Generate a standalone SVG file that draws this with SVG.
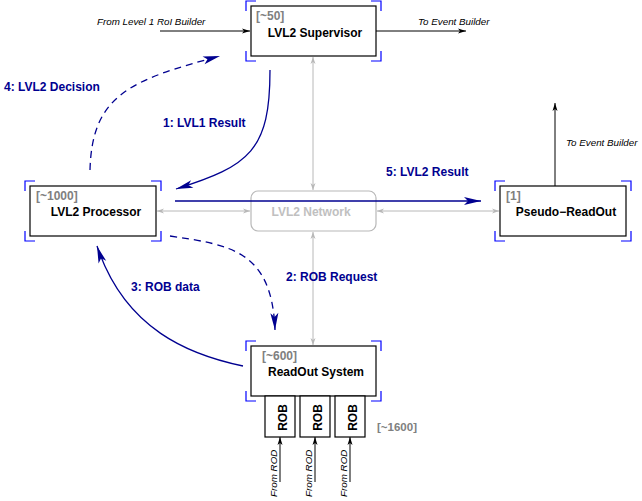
<svg xmlns="http://www.w3.org/2000/svg" width="642" height="501" viewBox="0 0 642 501">
<defs>
<marker id="ab" markerUnits="userSpaceOnUse" markerWidth="20" markerHeight="12" viewBox="-18 -6 20 12" refX="0" refY="0" orient="auto"><path d="M0,0 L-17,-4 L-13,0 L-17,4 Z" fill="#000090"/></marker>
<marker id="ak" markerUnits="userSpaceOnUse" markerWidth="12" markerHeight="8" viewBox="-10 -4 12 8" refX="0" refY="0" orient="auto"><path d="M0,0 L-8,-2.5 L-6,0 L-8,2.5 Z" fill="#000"/></marker>
<marker id="ag" markerUnits="userSpaceOnUse" markerWidth="12" markerHeight="8" viewBox="-10 -4 12 8" refX="0" refY="0" orient="auto"><path d="M0,0 L-7,-2.5 L-5,0 L-7,2.5 Z" fill="#b8b8b8"/></marker>
<marker id="ags" markerUnits="userSpaceOnUse" markerWidth="12" markerHeight="8" viewBox="-2 -4 12 8" refX="0" refY="0" orient="auto"><path d="M0,0 L7,-2.5 L5,0 L7,2.5 Z" fill="#b8b8b8"/></marker>
</defs>
<style>
.box{fill:#fff;stroke:#000;stroke-width:1.2}
.br{fill:none;stroke:#0000ff;stroke-width:1.2}
.t{font-family:"Liberation Sans",Arial,sans-serif;font-weight:bold;font-size:12px;fill:#000}
.n{font-family:"Liberation Sans",Arial,sans-serif;font-weight:bold;font-size:12px;fill:#808080}
.it{font-family:"Liberation Sans",Arial,sans-serif;font-style:italic;font-size:9.8px;fill:#000}
.bl{font-family:"Liberation Sans",Arial,sans-serif;font-weight:bold;font-size:12px;fill:#000090}
.gl{fill:none;stroke:#b8b8b8;stroke-width:1}
.kl{fill:none;stroke:#000;stroke-width:1}
.cb{fill:none;stroke:#000090;stroke-width:1.3}
.cd{fill:none;stroke:#000090;stroke-width:1.3;stroke-dasharray:7,5}
</style>

<g id="connectors">
<line class="gl" x1="157" y1="211" x2="250" y2="211" marker-start="url(#ags)" marker-end="url(#ag)"/>
<line class="gl" x1="377" y1="211" x2="499" y2="211" marker-start="url(#ags)" marker-end="url(#ag)"/>
<line class="gl" x1="313" y1="57" x2="313" y2="190" marker-start="url(#ags)" marker-end="url(#ag)"/>
<line class="gl" x1="313" y1="232" x2="313" y2="345" marker-start="url(#ags)" marker-end="url(#ag)"/>
<line class="kl" x1="160" y1="31" x2="250" y2="31" marker-end="url(#ak)"/>
<line class="kl" x1="376" y1="31" x2="466" y2="31" marker-end="url(#ak)"/>
<line class="kl" x1="555" y1="186" x2="555" y2="103" marker-end="url(#ak)"/>
<line class="kl" x1="280" y1="482" x2="280" y2="437" marker-end="url(#ak)"/>
<line class="kl" x1="315" y1="482" x2="315" y2="437" marker-end="url(#ak)"/>
<line class="kl" x1="350" y1="482" x2="350" y2="437" marker-end="url(#ak)"/>
<path class="cb" d="M270,70 C270,150 250,166 176,189" marker-end="url(#ab)"/>
<path class="cd" d="M90,170 C92,95 130,80 220,56" marker-end="url(#ab)"/>
<path class="cd" d="M170,236 C230,245 272,250 275,330" marker-end="url(#ab)"/>
<path class="cb" d="M243,366 C190,355 125,330 97,246" marker-end="url(#ab)"/>
</g>

<g id="labels">
<text class="it" x="97" y="25">From Level 1 RoI Builder</text>
<text class="it" x="418" y="25">To Event Builder</text>
<text class="it" x="566" y="146">To Event Builder</text>
<text class="bl" x="4" y="91">4: LVL2 Decision</text>
<text class="bl" x="163" y="127">1: LVL1 Result</text>
<text class="bl" x="386" y="176">5: LVL2 Result</text>
<text class="bl" x="286" y="281">2: ROB Request</text>
<text class="bl" x="131" y="291">3: ROB data</text>
<text class="it" transform="translate(277,497) rotate(-90)">From ROD</text>
<text class="it" transform="translate(312,497) rotate(-90)">From ROD</text>
<text class="it" transform="translate(347,497) rotate(-90)">From ROD</text>
<text class="n" x="377" y="431" style="font-size:11.5px">[~1600]</text>
</g>

<g id="supervisor">
<rect class="box" x="251" y="6" width="125" height="50"/>
<path class="br" d="M246,11 V1 H256 M371,1 H381 V11 M246,51 V61 H256 M371,61 H381 V51"/>
<text class="n" x="256" y="20">[~50]</text>
<text class="t" x="315" y="37" text-anchor="middle">LVL2 Supervisor</text>
</g>

<g id="processor">
<rect class="box" x="30" y="186" width="126" height="50"/>
<path class="br" d="M25,191 V181 H35 M151,181 H161 V191 M25,231 V241 H35 M151,241 H161 V231"/>
<text class="n" x="36" y="200">[~1000]</text>
<text class="t" x="96" y="216" text-anchor="middle">LVL2 Processor</text>
</g>

<g id="network">
<rect x="251" y="191" width="125" height="40" rx="7" fill="#fff" stroke="#b8b8b8" stroke-width="1.2"/>
<text class="t" x="311" y="216" text-anchor="middle" style="fill:#c0c0c0">LVL2 Network</text>
</g>

<g id="result5">
<line class="cb" x1="175" y1="201" x2="481" y2="201" stroke-width="1.2" marker-end="url(#ab)"/>
</g>

<g id="pseudoreadout">
<rect class="box" x="500" y="186" width="126" height="50"/>
<path class="br" d="M495,191 V181 H505 M621,181 H631 V191 M495,231 V241 H505 M621,241 H631 V231"/>
<text class="n" x="506" y="200">[1]</text>
<text class="t" x="566" y="216" text-anchor="middle">Pseudo−ReadOut</text>
</g>

<g id="readout">
<rect class="box" x="251" y="346" width="125" height="50"/>
<path class="br" d="M246,351 V341 H256 M371,341 H381 V351 M246,391 V401 H256 M371,401 H381 V391"/>
<text class="n" x="262" y="360">[~600]</text>
<text class="t" x="316" y="376" text-anchor="middle">ReadOut System</text>
</g>

<g id="rob1">
<rect class="box" x="265" y="396" width="30" height="41"/>
<text class="t" transform="translate(286.5,417.5) rotate(-90)" text-anchor="middle">ROB</text>
</g>
<g id="rob2">
<rect class="box" x="300" y="396" width="30" height="41"/>
<text class="t" transform="translate(321.5,417.5) rotate(-90)" text-anchor="middle">ROB</text>
</g>
<g id="rob3">
<rect class="box" x="335" y="396" width="30" height="41"/>
<text class="t" transform="translate(356.5,417.5) rotate(-90)" text-anchor="middle">ROB</text>
</g>
</svg>
